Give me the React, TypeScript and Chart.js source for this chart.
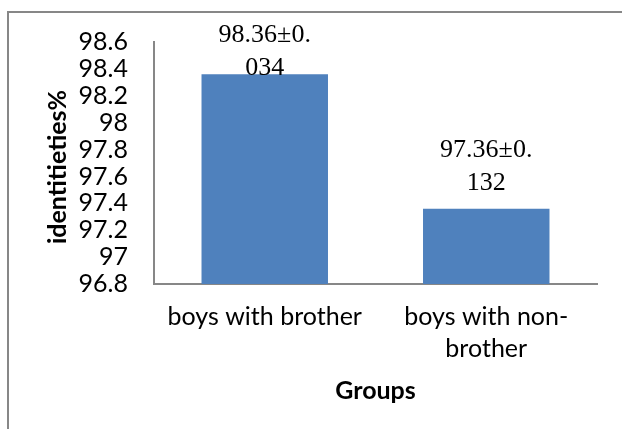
import { useEffect, useRef } from 'react';
import { Chart, registerables } from 'chart.js';

Chart.register(...registerables);

// Mean sequence identity per group, with its standard deviation
const groups: string[][] = [['boys with brother'], ['boys with non-', 'brother']];
const meanIdentity: number[] = [98.36, 97.36];
const sdIdentity: string[] = ['0.034', '0.132'];

// Value axis ticks
const yTickValues: number[] = [96.8, 97, 97.2, 97.4, 97.6, 97.8, 98, 98.2, 98.4, 98.6];
const yTickLabels: string[] = ['96.8', '97', '97.2', '97.4', '97.6', '97.8', '98', '98.2', '98.4', '98.6'];

const yAxisTitle = 'identitieties%';
const xAxisTitle = 'Groups';

const W = 622;
const H = 429;
const SANS = 'Lato, "Noto Sans", sans-serif';
const SERIF = '"Liberation Serif", "Times New Roman", serif';
const GREY = '#878787';
const BAR = '#4F81BD';
const FONT_SIZE = 25;

// Labels are wrapped in a narrow box, 8 characters per line
const wrapLabel = (text: string, width: number): string[] => {
  const out: string[] = [];
  for (let i = 0; i < text.length; i += width) out.push(text.slice(i, i + width));
  return out;
};

const framePlugin = {
  id: 'frame',
  beforeDraw(chart: Chart) {
    const { ctx } = chart;
    ctx.save();
    ctx.fillStyle = '#ffffff';
    ctx.fillRect(0, 0, chart.width, chart.height);
    ctx.fillStyle = GREY;
    ctx.fillRect(7, 11, chart.width - 7, 2);
    ctx.fillRect(7, 11, 2, chart.height - 11);
    ctx.restore();
  },
};

// Rotated value-axis title, sitting left of the tick labels
const yTitlePlugin = {
  id: 'yTitle',
  afterDraw(chart: Chart) {
    const { ctx, chartArea } = chart;
    const yScale = chart.scales.y;
    ctx.save();
    ctx.translate(yScale.left + 66, (chartArea.top + chartArea.bottom) / 2 + 4);
    ctx.rotate(-Math.PI / 2);
    ctx.font = `bold ${FONT_SIZE}px ${SANS}`;
    ctx.fillStyle = '#000000';
    ctx.textAlign = 'center';
    ctx.textBaseline = 'alphabetic';
    ctx.fillText(yAxisTitle, 0, 0);
    ctx.restore();
  },
};

const valueLabelPlugin = {
  id: 'valueLabels',
  afterDatasetsDraw(chart: Chart) {
    const { ctx, chartArea } = chart;
    const meta = chart.getDatasetMeta(0);
    ctx.save();
    ctx.font = `26px ${SERIF}`;
    ctx.fillStyle = '#000000';
    ctx.textAlign = 'center';
    ctx.textBaseline = 'alphabetic';
    meta.data.forEach((bar: any, i: number) => {
      const text = `${meanIdentity[i].toFixed(2)}±${sdIdentity[i]}`;
      const lines = wrapLabel(text, 8);
      const lineGap = 33;
      const first = Math.max(bar.y - 19 - lineGap * (lines.length - 1), chartArea.top);
      lines.forEach((line, k) => ctx.fillText(line, bar.x, first + k * lineGap));
    });
    ctx.restore();
  },
};

export default function App() {
  const canvasRef = useRef<HTMLCanvasElement | null>(null);

  useEffect(() => {
    const canvas = canvasRef.current;
    if (!canvas) return;
    const tickFont = { family: SANS, size: FONT_SIZE, lineHeight: 32 / FONT_SIZE };
    const titleFont = { family: SANS, size: FONT_SIZE, weight: 'bold' as const, lineHeight: 32 / FONT_SIZE };

    const chart = new Chart(canvas, {
      type: 'bar',
      data: {
        labels: groups,
        datasets: [
          {
            data: meanIdentity,
            backgroundColor: BAR,
            borderWidth: 0,
            barPercentage: 0.571,
            categoryPercentage: 1,
          },
        ],
      },
      options: {
        responsive: false,
        devicePixelRatio: 1,
        animation: false,
        layout: { padding: { left: 0, top: 42, right: 25, bottom: 0 } },
        plugins: {
          legend: { display: false },
          tooltip: { enabled: false },
        },
        scales: {
          x: {
            grid: { display: false, drawTicks: false },
            border: { display: true, color: GREY, width: 2 },
            ticks: {
              color: '#000000',
              font: tickFont,
              padding: 17,
              maxRotation: 0,
              autoSkip: false,
            },
            title: {
              display: true,
              text: xAxisTitle,
              color: '#000000',
              font: titleFont,
              padding: { top: 0, bottom: 22 },
            },
            afterFit(scale: any) {
              scale.height = H - 284;
            },
          },
          y: {
            min: 96.8,
            max: 98.6,
            grid: { display: false, drawTicks: false },
            border: { display: true, color: GREY, width: 2 },
            afterBuildTicks(scale: any) {
              scale.ticks = yTickValues.map((value) => ({ value }));
            },
            ticks: {
              color: '#000000',
              font: tickFont,
              padding: 26,
              autoSkip: false,
              callback: (_v: any, index: number) => yTickLabels[index],
            },
            afterFit(scale: any) {
              scale.width = 154;
            },
          },
        },
      },
      plugins: [framePlugin, valueLabelPlugin, yTitlePlugin],
    });

    return () => chart.destroy();
  }, []);

  return (
    <div style={{ position: 'fixed', top: 0, left: 0, width: W, height: H, background: '#ffffff' }}>
      <canvas ref={canvasRef} width={W} height={H} style={{ display: 'block' }} />
    </div>
  );
}
